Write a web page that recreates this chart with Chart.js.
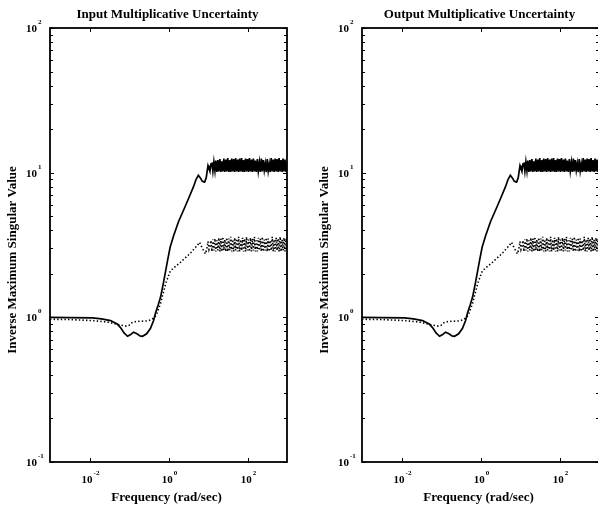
<!DOCTYPE html>
<html><head><meta charset="utf-8">
<script src="https://cdn.jsdelivr.net/npm/chart.js@4"></script>
<style>
html,body{margin:0;padding:0;background:#fff;overflow:hidden;width:598px;height:506px;position:relative;}
.panel{position:absolute;top:0;width:300px;height:506px;}
#p1{left:0;}
#p2{left:312px;}
canvas{display:block;}
</style></head><body>
<div class="panel" id="p1"><canvas id="c1" width="300" height="506"></canvas></div>
<div class="panel" id="p2"><canvas id="c2" width="300" height="506"></canvas></div>
<script>
// ---- texts ----
const titles = ['Input Multiplicative Uncertainty', 'Output Multiplicative Uncertainty'];
const xLabel = 'Frequency (rad/sec)';
const yLabel = 'Inverse Maximum Singular Value';
const xTickExp = [-2, 0, 2];
const yTickExp = [-1, 0, 1, 2];
const xRange = [1e-3, 1e3];
const yRange = [1e-1, 1e2];

// ---- solid curve (smooth part) ----
const freqSolid = [0.001,0.003,0.012,0.02,0.034,0.05,0.061,0.075,0.092,0.11,0.13,0.16,0.19,0.22,0.28,0.35,0.42,0.47,0.55,0.63,0.75,0.94,1.1,1.34,1.8,2.4,3.2,4.3,5.0,5.7,6.4,7.2,8.2,9.0];
const magSolid  = [1.00,0.995,0.99,0.975,0.95,0.90,0.85,0.78,0.74,0.76,0.79,0.77,0.745,0.74,0.77,0.84,0.95,1.07,1.22,1.38,1.75,2.45,3.05,3.65,4.6,5.5,6.6,8.0,9.0,9.6,9.2,8.7,8.6,9.2];

// ---- dotted curve (smooth part) ----
const freqDot = [0.001,0.003,0.012,0.03,0.06,0.085,0.1,0.12,0.15,0.2,0.3,0.38,0.45,0.52,0.63,0.75,0.85,1.12,2.0,3.6,5.4,6.1,7.2,8.6,9.4];
const magDot  = [0.97,0.965,0.95,0.925,0.885,0.87,0.88,0.92,0.935,0.94,0.945,0.97,1.0,1.08,1.25,1.5,1.72,2.1,2.4,2.78,3.15,3.3,3.0,2.75,3.0];

// ---- high-frequency oscillating band ----
const freqBand = [10,10.6,11.2,11.9,12.6,13.3,14.1,15.0,15.8,16.8,17.8,18.8,20.0,21.1,22.4,23.7,25.1,26.6,28.2,29.9,31.6,33.5,35.5,37.6,39.8,42.2,44.7,47.3,50.1,53.1,56.2,59.6,63.1,66.8,70.8,75.0,79.4,84.1,89.1,94.4,100,106,112,119,126,133,141,150,158,168,178,188,200,211,224,237,251,266,282,299,316,335,355,376,398,422,447,473,501,531,562,596,631,668,708,750,794,841,891,944,1000];
const bandSolid = [11.2,10.7,10.2,11.5,11.6,10.2,11.9,10.3,12.1,10.1,
  12.2,10.2,12.4,10.1,12.0,10.2,12.5,10.1,12.3,10.2,
  12.6,10.1,12.2,10.1,12.5,10.2,12.4,10.1,12.6,10.2,
  12.3,10.1,12.5,10.2,12.6,10.1,12.2,10.1,12.5,10.2,
  12.4,10.1,12.6,10.2,12.3,10.1,12.5,10.2,12.1,10.1,
  12.4,10.3,11.8,10.1,12.5,10.2,12.2,10.4,11.6,10.1,
  12.4,10.3,11.5,10.1,12.6,10.2,12.3,10.1,12.5,10.2,
  12.4,10.1,12.6,10.2,12.2,10.1,12.5,10.2,12.3,10.1,
  11.8];
const bandDot = [3.35,2.95,3.10,3.40,2.85,3.45,2.90,3.50,2.85,3.40,
  2.90,3.55,2.85,3.50,2.85,3.60,2.90,3.45,2.85,3.55,
  2.85,3.50,2.90,3.60,2.85,3.45,2.85,3.55,2.90,3.50,
  2.85,3.60,2.85,3.45,2.90,3.55,2.85,3.50,2.85,3.60,
  2.90,3.45,2.85,3.55,2.85,3.50,2.90,3.60,2.85,3.40,
  2.85,3.55,2.90,3.50,2.85,3.60,2.85,3.45,2.90,3.55,
  2.85,3.50,2.85,3.40,2.90,3.60,2.85,3.45,2.85,3.55,
  2.90,3.50,2.85,3.60,2.85,3.45,2.90,3.55,2.85,3.50,
  3.00];

const FONT = "'Liberation Serif','Times New Roman',serif";
const pts = (f, m) => f.map((v, i) => ({x: v, y: m[i]}));
const solidData = pts(freqSolid, magSolid).concat(pts(freqBand, bandSolid));
const dotData = pts(freqDot, magDot).concat(pts(freqBand, bandDot));

function power(ctx, cx, cy, exp, align) {
  ctx.font = "bold 11px " + FONT;
  const wb = ctx.measureText('10').width;
  ctx.font = "bold 7px " + FONT;
  const we = ctx.measureText(String(exp)).width;
  let x0;
  if (align === 'right') x0 = cx - wb; else x0 = cx - (wb + 1 + we) / 2;
  ctx.textAlign = 'left';
  ctx.textBaseline = 'middle';
  ctx.font = "bold 11px " + FONT;
  ctx.fillText('10', x0, cy);
  ctx.font = "bold 7px " + FONT;
  ctx.fillText(String(exp), x0 + wb + 1, cy - 7);
}

const axesPlugin = {
  id: 'matlabAxes',
  afterDatasetsDraw(chart, args, opts) {
    const ctx = chart.ctx, a = chart.chartArea, xs = chart.scales.x, ys = chart.scales.y;
    ctx.save();
    ctx.strokeStyle = '#000';
    ctx.fillStyle = '#000';
    ctx.lineWidth = 1.8;
    ctx.strokeRect(a.left, a.top, a.right - a.left, a.bottom - a.top);
    ctx.lineWidth = 1;
    const seg = (x1, y1, x2, y2) => { ctx.beginPath(); ctx.moveTo(x1, y1); ctx.lineTo(x2, y2); ctx.stroke(); };
    xTickExp.forEach(e => {
      const px = Math.round(xs.getPixelForValue(Math.pow(10, e))) + 0.5;
      seg(px, a.bottom, px, a.bottom - 4);
      seg(px, a.top, px, a.top + 4);
      power(ctx, px, a.bottom + 18, e, 'center');
    });
    yTickExp.forEach(e => {
      const py = Math.round(ys.getPixelForValue(Math.pow(10, e))) + 0.5;
      seg(a.left, py, a.left + 4, py);
      seg(a.right, py, a.right - 4, py);
      power(ctx, a.left - 13, py + 1, e, 'right');
      if (e < yTickExp[yTickExp.length - 1]) {
        for (let m = 2; m <= 9; m++) {
          const pm = Math.round(ys.getPixelForValue(m * Math.pow(10, e))) + 0.5;
          seg(a.left, pm, a.left + 3, pm);
          seg(a.right, pm, a.right - 3, pm);
        }
      }
    });
    const cx = (a.left + a.right) / 2;
    ctx.textAlign = 'center';
    ctx.textBaseline = 'alphabetic';
    ctx.font = "bold 13px " + FONT;
    ctx.fillText(opts.title, cx - 1, 18);
    ctx.fillText(xLabel, cx - 2, 501);
    ctx.save();
    ctx.translate(a.left - 37, (a.top + a.bottom) / 2 + 15);
    ctx.rotate(-Math.PI / 2);
    ctx.textBaseline = 'middle';
    ctx.fillText(yLabel, 0, 0);
    ctx.restore();
    ctx.restore();
  }
};

function makeChart(id, title) {
  return new Chart(document.getElementById(id), {
    type: 'line',
    data: {
      datasets: [
        {label: 'solid', data: solidData, borderColor: '#000', borderWidth: 1.7, pointRadius: 0, tension: 0, fill: false},
        {label: 'dotted', data: dotData, borderColor: '#000', borderWidth: 1.6, borderDash: [1.4, 2.2], pointRadius: 0, tension: 0, fill: false}
      ]
    },
    options: {
      responsive: false,
      animation: false,
      events: [],
      layout: {padding: {left: 50, right: 13, top: 28, bottom: 44}},
      scales: {
        x: {type: 'logarithmic', min: xRange[0], max: xRange[1], display: false},
        y: {type: 'logarithmic', min: yRange[0], max: yRange[1], display: false}
      },
      plugins: {legend: {display: false}, tooltip: {enabled: false}, title: {display: false},
        matlabAxes: {title: title}}
    },
    plugins: [axesPlugin]
  });
}
makeChart('c1', titles[0]);
makeChart('c2', titles[1]);
</script>
</body></html>
